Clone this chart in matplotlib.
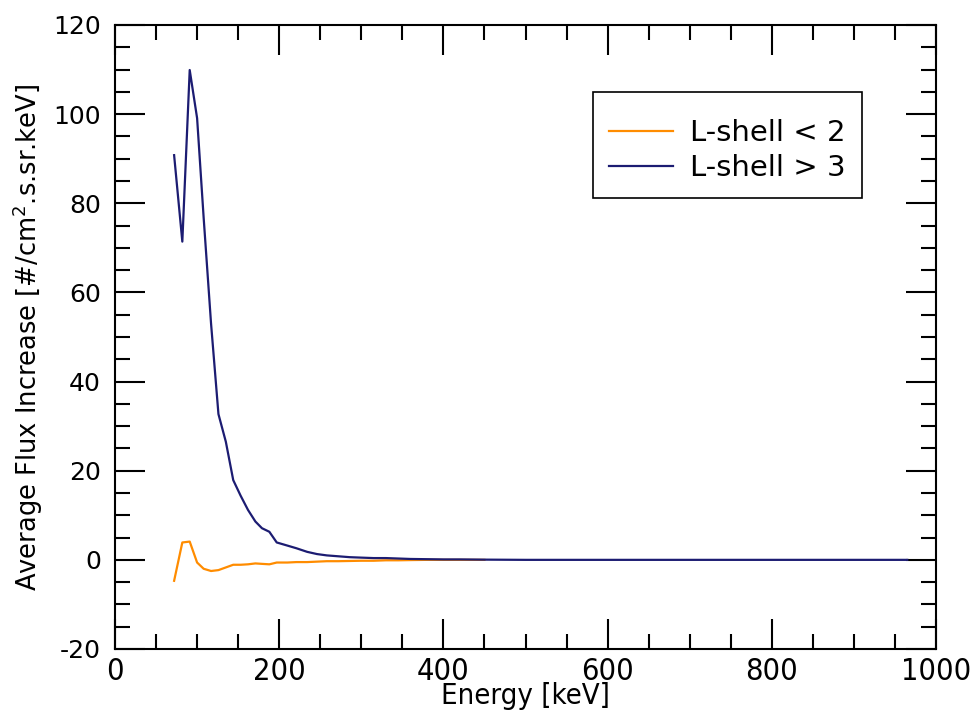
import matplotlib
matplotlib.use('Agg')
import matplotlib.pyplot as plt
from matplotlib.ticker import MultipleLocator

# energy grid [keV] and average flux increase for the two L-shell bins
energy_low = [72, 82, 91, 100, 108, 117, 126, 135, 144, 153, 162, 171, 179,
              188, 197, 210, 221, 234, 246, 258, 272, 286, 300, 315, 330,
              345, 360, 380, 400, 420, 450]
flux_low = [-4.7, 3.9, 4.1, -0.6, -2.0, -2.5, -2.3, -1.7, -1.1, -1.1, -1.0,
            -0.8, -0.9, -1.0, -0.6, -0.6, -0.5, -0.5, -0.4, -0.3, -0.3,
            -0.25, -0.2, -0.2, -0.1, -0.1, -0.05, 0.0, 0.0, 0.0, 0.0]

energy_high = [72, 82, 91, 100, 108, 117, 126, 135, 144, 153, 162, 171, 179,
               188, 197, 210, 221, 234, 246, 258, 272, 286, 300, 315, 330,
               345, 360, 380, 400, 420, 450, 500, 550, 600, 650, 700, 750,
               800, 850, 900, 965]
flux_high = [90.8, 71.4, 109.9, 99.1, 76.7, 53.0, 32.7, 26.5, 17.9, 14.4,
             11.2, 8.6, 7.1, 6.3, 3.9, 3.2, 2.6, 1.8, 1.3, 1.0, 0.8, 0.6,
             0.5, 0.4, 0.4, 0.3, 0.2, 0.15, 0.1, 0.1, 0.05, 0.0, 0.0, 0.0,
             0.0, 0.0, 0.0, 0.0, 0.0, 0.0, 0.0]

series_labels = ['L-shell < 2', 'L-shell > 3']

plt.rcParams['font.family'] = 'DejaVu Sans'
plt.rcParams['axes.unicode_minus'] = False

fig = plt.figure(figsize=(9.74, 7.13), dpi=100)
ax = fig.add_axes([115/974, 1 - 649/713, 821/974, 624/713])

ax.plot(energy_low, flux_low, color='#ff8c00', lw=1.6, label=series_labels[0])
ax.plot(energy_high, flux_high, color='#1c1c72', lw=1.6, label=series_labels[1])

ax.set_xlim(0, 1000)
ax.set_ylim(-20, 120)
ax.xaxis.set_major_locator(MultipleLocator(200))
ax.xaxis.set_minor_locator(MultipleLocator(50))
ax.yaxis.set_major_locator(MultipleLocator(20))
ax.yaxis.set_minor_locator(MultipleLocator(5))

for s in ax.spines.values():
    s.set_linewidth(1.5)
ax.tick_params(which='both', direction='in', top=True, right=True, width=1.5)
ax.tick_params(which='major', length=21.6)
ax.tick_params(which='minor', length=10.8)
ax.tick_params(axis='y', labelsize=18, pad=10)
ax.tick_params(axis='x', pad=6)
for lab in ax.get_xticklabels():
    lab.set_fontsize(22)
    lab.set_fontstretch('condensed')

ax.set_xlabel('Energy [keV]', fontsize=21, fontstretch='condensed', labelpad=-3)
ax.set_ylabel('Average Flux Increase [#/cm$^{2}$.s.sr.keV]', fontsize=18.5,
              labelpad=6)

# small blank title gives the box its extra headroom above the first entry
leg = ax.legend(loc='upper right', bbox_to_anchor=(0.91, 0.893), fontsize=21,
                title=' ', title_fontsize=2,
                fancybox=False, framealpha=1, edgecolor='black',
                handlelength=2.2, handletextpad=0.6, borderpad=0.55,
                labelspacing=0.25, borderaxespad=0)
leg.get_frame().set_linewidth(1.2)

fig.savefig('out.png', dpi=100)
